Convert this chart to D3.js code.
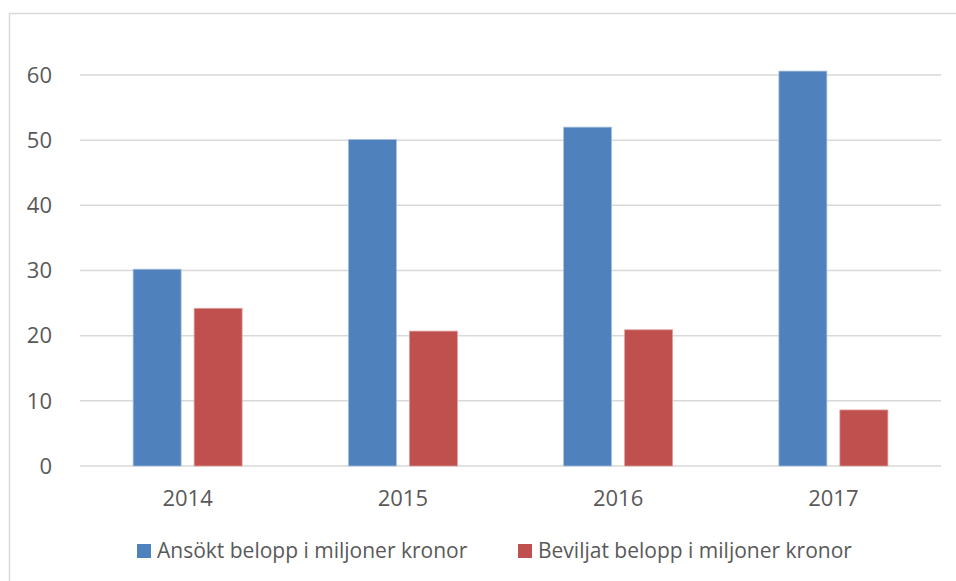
<!DOCTYPE html>
<html>
<head>
<meta charset="utf-8">
<script src="https://cdn.jsdelivr.net/npm/d3@7"></script>
<style>
  body { margin: 0; background: #fff; }
  text { font-family: "Open Sans", sans-serif; fill: #595959; }
</style>
</head>
<body>
<svg></svg>
<script>
// Chart data
const years = ["2014", "2015", "2016", "2017"];
const ansokt = [30.2, 50.1, 52.0, 60.6];
const beviljat = [24.2, 20.7, 20.9, 8.6];
const seriesNames = ["Ansökt belopp i miljoner kronor", "Beviljat belopp i miljoner kronor"];
const yTicks = [0, 10, 20, 30, 40, 50, 60];

const width = 956, height = 581;
const svg = d3.select("svg").attr("width", width).attr("height", height);

// Chart area border
svg.append("rect")
    .attr("x", 9.5).attr("y", 13.5)
    .attr("width", 1000).attr("height", 1000)
    .attr("fill", "none")
    .attr("stroke", "#d9d9d9")
    .attr("stroke-width", 1.5);

const plot = { left: 80, right: 941, top: 75, bottom: 466 };

const x = d3.scaleBand().domain(years).range([plot.left, plot.right]);
const y = d3.scaleLinear().domain([0, 60]).range([plot.bottom, plot.top]);

// Gridlines
svg.append("g").selectAll("line")
    .data(yTicks)
    .enter().append("line")
    .attr("x1", plot.left).attr("x2", plot.right)
    .attr("y1", d => y(d)).attr("y2", d => y(d))
    .attr("stroke", "#d9d9d9")
    .attr("stroke-width", 1.5);

// Y tick labels
svg.append("g").selectAll("text")
    .data(yTicks)
    .enter().append("text")
    .attr("x", 52)
    .attr("y", d => y(d))
    .attr("dy", "0.35em")
    .attr("text-anchor", "end")
    .attr("font-size", 22)
    .text(d => d);

// X tick labels
svg.append("g").selectAll("text")
    .data(years)
    .enter().append("text")
    .attr("x", d => x(d) + x.bandwidth() / 2)
    .attr("y", 498)
    .attr("dy", "0.35em")
    .attr("text-anchor", "middle")
    .attr("font-size", 22)
    .text(d => d);

// Bars
const barW = 48, gap = 13;
const colors = ["#4f81bd", "#c0504d"];
const strokes = ["#a7c0de", "#df9f9d"];
[ansokt, beviljat].forEach((vals, s) => {
    svg.append("g").selectAll("rect")
        .data(vals)
        .enter().append("rect")
        .attr("x", (d, i) => x(years[i]) + x.bandwidth() / 2 + (s === 0 ? -(barW + gap / 2) : gap / 2))
        .attr("y", d => y(d))
        .attr("width", barW)
        .attr("height", d => y(0) - y(d))
        .attr("fill", colors[s])
        .attr("stroke", strokes[s])
        .attr("stroke-width", 0.75);
});

// Legend
const legendX = [137, 518];
seriesNames.forEach((name, s) => {
    svg.append("rect")
        .attr("x", legendX[s]).attr("y", 544)
        .attr("width", 14).attr("height", 14)
        .attr("fill", colors[s]);
    svg.append("text")
        .attr("x", legendX[s] + 20)
        .attr("y", 551)
        .attr("dy", "0.35em")
        .attr("font-size", 21)
        .text(name);
});
</script>
</body>
</html>
